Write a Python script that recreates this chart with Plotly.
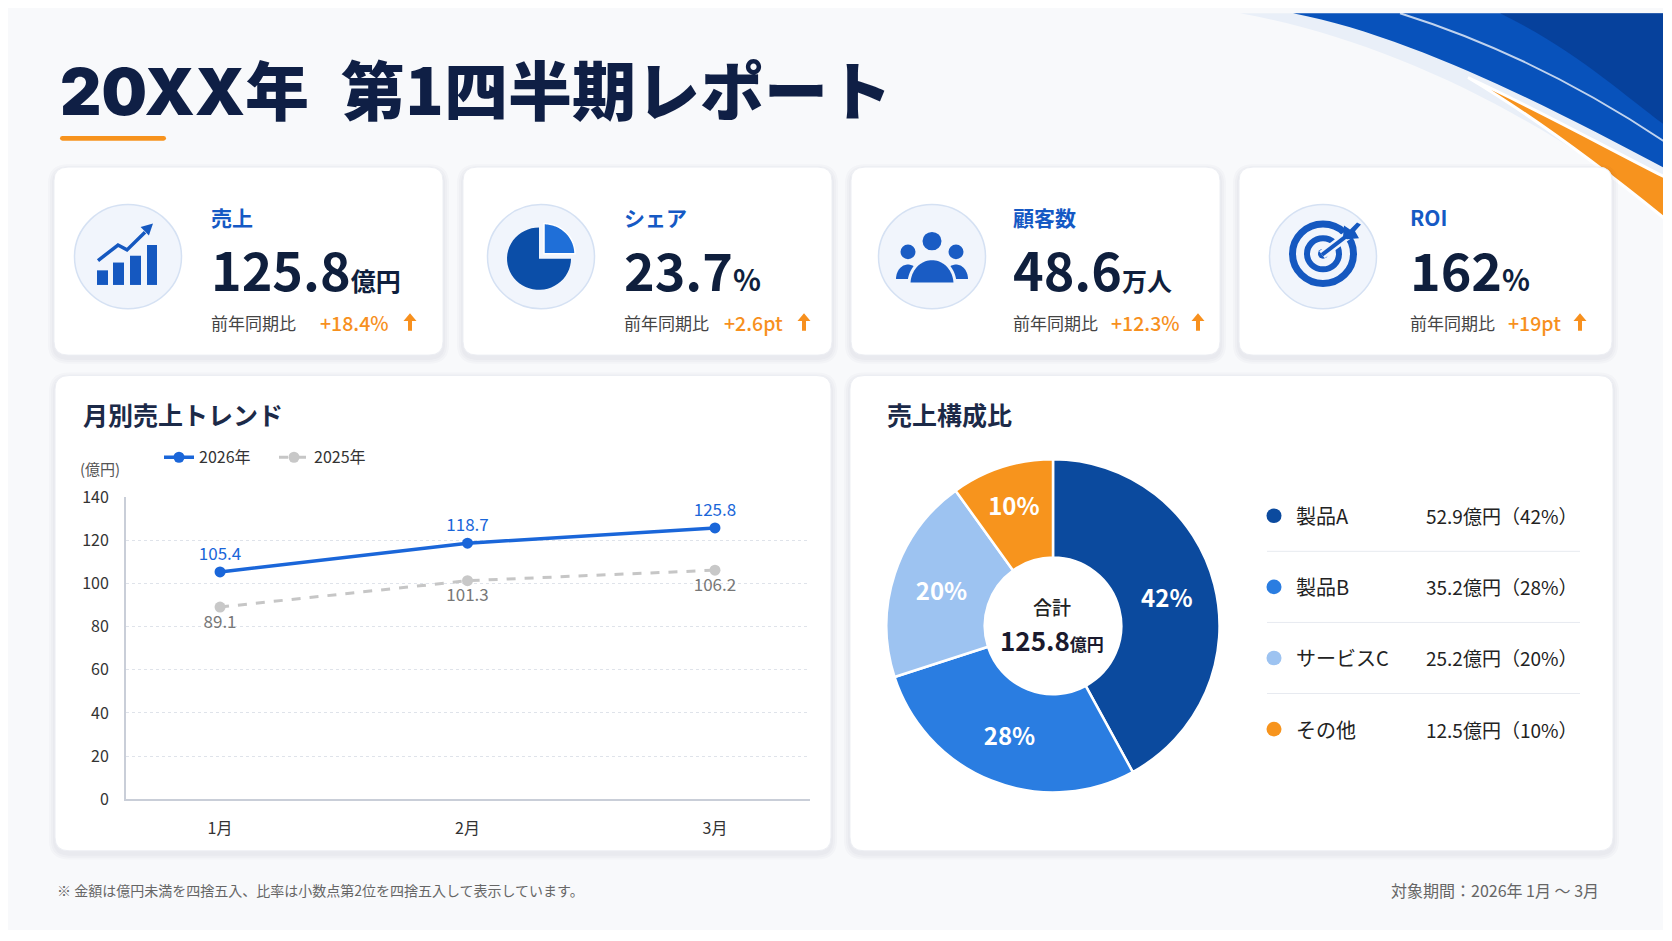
import math
import plotly.graph_objects as go

# the page puts an 8px margin round the figure, so the figure is sized to fit the 1672x941 window
OX, OY = 8, 8
FW, FH = 1655, 922
FONT = "Noto Sans CJK JP"

# ---- data ----
months = ["1月", "2月", "3月"]
sales_2026 = [105.4, 118.7, 125.8]
sales_2025 = [89.1, 101.3, 106.2]

segments = ["製品A", "製品B", "サービスC", "その他"]
segment_values = [52.9, 35.2, 25.2, 12.5]
segment_colors = ["#0b4a9e", "#2a7de1", "#9dc3f1", "#f7941d"]

kpi_labels = ["売上", "シェア", "顧客数", "ROI"]
kpi_values = ["125.8", "23.7", "48.6", "162"]
kpi_units = ["億円", "%", "万人", "%"]
kpi_changes = ["+18.4%", "+2.6pt", "+12.3%", "+19pt"]

# ---- helpers (screen pixel -> paper) ----
def px(x):
    return (x - OX) / FW

def py(y):
    return 1 - (y - OY) / FH

def pt(x, y):
    return f"{px(x):.5f},{py(y):.5f}"

shapes = []
annotations = []

def add_path(d, fill="rgba(0,0,0,0)", line_color="rgba(0,0,0,0)", lw=0):
    shapes.append(dict(type="path", xref="paper", yref="paper", path=d, fillcolor=fill,
                       line=dict(color=line_color, width=lw), layer="below"))

def add_circle(cx, cy, r, fill="rgba(0,0,0,0)", line_color="rgba(0,0,0,0)", lw=0):
    shapes.append(dict(type="circle", xref="paper", yref="paper",
                       x0=px(cx - r), x1=px(cx + r), y0=py(cy + r), y1=py(cy - r),
                       fillcolor=fill, line=dict(color=line_color, width=lw), layer="below"))

def poly(points, close=True):
    d = "M " + " L ".join(pt(x, y) for x, y in points)
    return d + (" Z" if close else "")

def rrect(x0, y0, x1, y1, r):
    return (f"M {pt(x0 + r, y0)} L {pt(x1 - r, y0)} Q {pt(x1, y0)} {pt(x1, y0 + r)} "
            f"L {pt(x1, y1 - r)} Q {pt(x1, y1)} {pt(x1 - r, y1)} L {pt(x0 + r, y1)} "
            f"Q {pt(x0, y1)} {pt(x0, y1 - r)} L {pt(x0, y0 + r)} Q {pt(x0, y0)} {pt(x0 + r, y0)} Z")

def arc(cx, cy, r, a0, a1, n=40, rx=None):
    rx = r if rx is None else rx
    return [(cx + rx * math.cos(math.radians(a0 + (a1 - a0) * i / n)),
             cy + r * math.sin(math.radians(a0 + (a1 - a0) * i / n))) for i in range(n + 1)]

def text(x, y, s, size, color, weight=400, xanchor="left"):
    annotations.append(dict(x=px(x), y=py(y), xref="paper", yref="paper", text=s, showarrow=False,
                            xanchor=xanchor, yanchor="middle",
                            font=dict(family=FONT, size=size, color=color, weight=weight)))

def card(x0, y0, x1, y1, r=14):
    for k in (6, 4, 2):
        add_path(rrect(x0 - k, y0 - k + 3, x1 + k, y1 + k + 3, r + k), fill="rgba(30,50,90,0.025)")
    add_path(rrect(x0, y0, x1, y1, r), fill="#ffffff", line_color="#eceef3", lw=1)

# ---- top-right decoration ----
add_path(f"M {pt(1240, 0)} C {pt(1390, 28)} {pt(1540, 105)} {pt(1672, 212)} L {pt(1672, 163)} "
         f"C {pt(1580, 100)} {pt(1420, 25)} {pt(1293, 0)} Z", fill="#e9eff8")
add_path(f"M {pt(1293, 0)} C {pt(1420, 25)} {pt(1570, 108)} {pt(1672, 163)} L {pt(1672, 0)} Z",
         fill="#0852bb")
add_path(f"M {pt(1500, 0)} C {pt(1580, 40)} {pt(1630, 90)} {pt(1672, 120)} L {pt(1672, 0)} Z",
         fill="rgba(5,45,120,0.45)")
add_path(f"M {pt(1400, 0)} Q {pt(1540, 45)} {pt(1672, 137)}", line_color="rgba(255,255,255,0.75)", lw=2)
add_path(f"M {pt(1468, 66)} C {pt(1540, 100)} {pt(1610, 140)} {pt(1672, 172)} L {pt(1672, 217)} "
         f"C {pt(1610, 165)} {pt(1540, 110)} {pt(1468, 66)} Z", fill="#f7931e", line_color="#ffffff", lw=3)

# ---- title ----
text(58, 76, "<span style='font-family:Inter'>20XX</span>年\u2002第1四半期レポート", 64, "#0f1f45", 900)
add_path(rrect(60, 126, 166, 131, 2.5), fill="#f7931e")

# ---- KPI cards ----
card_x = [(54, 443), (463, 832), (851, 1220), (1239, 1612)]
icon_x = [128, 541, 932, 1323]
text_x = [209, 622, 1011, 1408]
change_x = [318, 722, 1109, 1506]
arrow_x = [410, 804, 1198, 1580]
icon_blue = "#1558c0"
for i in range(4):
    card(card_x[i][0], 158, card_x[i][1], 351)
    add_circle(icon_x[i], 250, 53.5, fill="#f1f5fc", line_color="#d5e1f3", lw=1.5)
    text(text_x[i], 209, kpi_labels[i], 21, "#1559c4", 700)
    unit_size = 29 if kpi_units[i] == "%" else 25
    text(text_x[i], 262, f"{kpi_values[i]}<span style='font-size:{unit_size}px'>{kpi_units[i]}</span>",
         52, "#0f1f3d", 700)
    text(text_x[i], 318, "前年同期比", 17, "#444444")
    text(change_x[i], 318, kpi_changes[i], 19.5, "#f7901e", 500)
    ax = arrow_x[i]
    add_path(poly([(ax - 6.5, 316), (ax, 308), (ax + 6.5, 316), (ax + 2, 316), (ax + 2, 326),
                   (ax - 2, 326), (ax - 2, 316)]), fill="#f7901e")

# icon 1: bars + trend arrow
for x0, x1, top in [(97, 108, 264), (113, 124, 256), (130, 141, 249), (147, 157, 238)]:
    add_path(poly([(x0, top), (x1, top), (x1, 279), (x0, 279)]), fill=icon_blue)
add_path(poly([(98, 254), (118, 238), (127, 243), (145, 225)], close=False), line_color=icon_blue, lw=3.5)
add_path(poly([(153, 216), (148.9, 228.2), (140.6, 219.6)]), fill=icon_blue)

# icon 2: pie
add_path(poly([(539, 252)] + arc(539, 252, 32, 0, 270)), fill="#0b4ea8")
add_path(poly([(544, 247)] + arc(544, 247, 31, 270, 360)), fill="#1f6fd8", line_color="#ffffff", lw=1.5)

# icon 3: people
for hx in (908, 956):
    add_path(poly(arc(hx, 273, 15, 180, 360, rx=12)), fill="#1a5cc4")
    add_circle(hx, 245, 7.5, fill="#1a5cc4")
add_path(poly(arc(932, 278, 26, 180, 360, rx=23)), fill="#1a5cc4", line_color="#f1f5fc", lw=3)
add_circle(932, 234, 10.5, fill="#1a5cc4", line_color="#f1f5fc", lw=2)

# icon 4: target
add_circle(1323, 247, 30.5, line_color=icon_blue, lw=7)
add_circle(1323, 247, 16, line_color=icon_blue, lw=6)
add_circle(1323, 247, 5, fill=icon_blue)
add_path(poly([(1322, 248), (1350, 226)], close=False), line_color="#f1f5fc", lw=9)
add_path(poly([(1322, 248), (1350, 226)], close=False), line_color=icon_blue, lw=4)
add_path(poly([(1343, 230), (1344, 218), (1350, 222), (1357, 215), (1361, 217),
               (1355, 224), (1359, 231), (1347, 232)]), fill=icon_blue)

# ---- bottom panels ----
card(55, 372, 831, 860)
card(850, 372, 1613, 860)
text(81, 411, "月別売上トレンド", 25, "#1c2a48", 700)
text(885, 411, "売上構成比", 25, "#1c2a48", 700)
text(78, 467, "(億円)", 15, "#555555")

# donut centre
total = sum(segment_values)
text(1052, 609, "合計", 19, "#222222", 500, xanchor="center")
text(1052, 643, f"{total:.1f}<span style='font-size:17px'>億円</span>", 26, "#1a1a2e", 700, xanchor="center")

# donut legend
row_y0, row_step = 516, 73
for i, name in enumerate(segments):
    ry = row_y0 + i * row_step
    add_circle(1274, ry, 7.5, fill=segment_colors[i])
    text(1294, ry, name, 20, "#222222")
    share = round(segment_values[i] / total * 100)
    text(1580, ry, f"{segment_values[i]:.1f}億円（{share}%）", 19, "#222222", xanchor="right")
    if i < len(segments) - 1:
        sy = ry + row_step / 2
        add_path(poly([(1267, sy), (1580, sy)], close=False), line_color="#e7eaf0", lw=1)

# footer
text(55, 900, "※ 金額は億円未満を四捨五入、比率は小数点第2位を四捨五入して表示しています。", 14, "#666666")
text(1601, 900, "対象期間：2026年 1月 ～ 3月", 16, "#666666", xanchor="right")

# ---- traces ----
fig = go.Figure()
fig.add_trace(go.Scatter(
    x=months, y=sales_2026, name="2026年", mode="lines+markers+text",
    line=dict(color="#1a66d9", width=3.5), marker=dict(size=11, color="#1a66d9"),
    text=[f"{v:.1f}" for v in sales_2026], textposition="top center",
    textfont=dict(family=FONT, size=17, color="#1a66d9"), hoverinfo="skip"))
fig.add_trace(go.Scatter(
    x=months, y=sales_2025, name="2025年", mode="lines+markers+text",
    line=dict(color="#c6c6c6", width=3, dash="dash"), marker=dict(size=11, color="#c8c8c8"),
    text=[f"{v:.1f}" for v in sales_2025], textposition="bottom center",
    textfont=dict(family=FONT, size=17, color="#777777"), hoverinfo="skip"))
fig.add_trace(go.Pie(
    labels=segments, values=segment_values, hole=0.41, sort=False, direction="clockwise", rotation=0,
    marker=dict(colors=segment_colors, line=dict(color="#ffffff", width=2.5)),
    texttemplate="%{percent:.0%}", textposition="inside", insidetextorientation="horizontal",
    textfont=dict(family=FONT, size=24, color="#ffffff", weight=700),
    domain=dict(x=[px(882), px(1224)], y=[py(800), py(458)]), showlegend=False, hoverinfo="skip"))

fig.update_layout(
    width=FW, height=FH, margin=dict(l=0, r=0, t=0, b=0),
    paper_bgcolor="#f8f9fb", plot_bgcolor="rgba(0,0,0,0)",
    font=dict(family=FONT, color="#333333"),
    shapes=shapes, annotations=annotations,
    legend=dict(orientation="h", x=px(159), y=py(456), xanchor="left", yanchor="middle",
                entrywidth=70, font=dict(family=FONT, size=16, color="#333333"),
                bgcolor="rgba(0,0,0,0)"),
    xaxis=dict(domain=[px(126), px(810)], range=[-0.38, 2.384], showgrid=False, showline=True,
               linecolor="#c9ced8", linewidth=2, ticks="", tickfont=dict(size=16, color="#333333"),
               ticklabelstandoff=14, fixedrange=True),
    yaxis=dict(domain=[py(807), py(497)], range=[0, 140], dtick=20, showgrid=True, gridcolor="#dfe3ea",
               griddash="dot", showline=True, linecolor="#c9ced8", linewidth=2, zeroline=False, ticks="",
               tickfont=dict(size=16, color="#333333"), ticklabelstandoff=12, fixedrange=True),
)
fig.write_html("out.html")
